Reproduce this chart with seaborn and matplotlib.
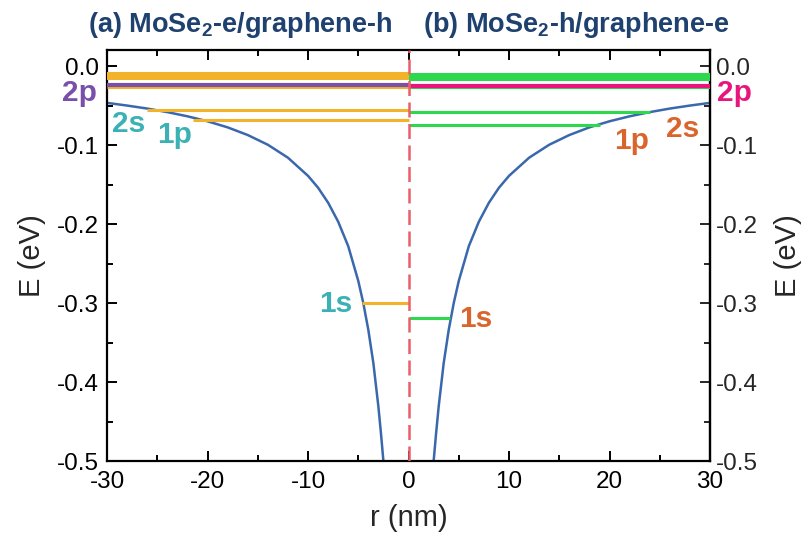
import matplotlib
matplotlib.use("Agg")
import matplotlib.pyplot as plt
import numpy as np
import pandas as pd
import seaborn as sns
from matplotlib.ticker import MultipleLocator

# Confining potential, radial distance |r| (nm) vs energy (eV)
r_abs = [2.4, 2.5, 2.75, 3.0, 3.5, 4.0, 4.5, 5.0, 6.0, 7.0, 8.0, 9.0, 10.0,
         12.0, 14.0, 16.0, 18.0, 20.0, 22.0, 24.0, 26.0, 28.0, 30.0]
well_E = [-0.517, -0.500, -0.464, -0.431, -0.376, -0.334, -0.300, -0.272,
          -0.228, -0.197, -0.173, -0.154, -0.139, -0.116, -0.0996, -0.0873,
          -0.0776, -0.0699, -0.0636, -0.0583, -0.0538, -0.0500, -0.0466]

# (a) MoSe2-e/graphene-h bound states: energy, left end of the level (nm)
a_names = ["band", "2p'", "2s", "1p", "1s"]
a_E = [-0.013, -0.027, -0.055, -0.068, -0.300]
a_start = [-30.0, -30.0, -26.0, -21.4, -4.6]
a_2p_E = -0.024

# (b) MoSe2-h/graphene-e bound states: energy, right end of the level (nm)
b_names = ["band", "2p'", "2s", "1p", "1s"]
b_E = [-0.0135, -0.027, -0.058, -0.075, -0.319]
b_end = [30.0, 30.0, 24.0, 19.1, 4.1]
b_2p_E = -0.025

# State labels: text, r, baseline energy
a_labels = [("2p", -32.7, -0.0445), ("2s", -27.9, -0.0835),
            ("1p", -23.3, -0.0975), ("1s", -7.2, -0.311)]
b_labels = [("2p", 32.4, -0.0445), ("2s", 27.3, -0.090),
            ("1p", 22.2, -0.105), ("1s", 6.7, -0.330)]

x_ticks = [-30, -20, -10, 0, 10, 20, 30]
y_ticks = [0.0, -0.1, -0.2, -0.3, -0.4, -0.5]

sns.set_theme(style="ticks")
plt.rcParams["font.family"] = ["Liberation Sans", "DejaVu Sans"]
plt.rcParams["mathtext.fontset"] = "custom"
plt.rcParams["mathtext.bf"] = "Liberation Sans:bold"
plt.rcParams["mathtext.rm"] = "Liberation Sans"

C_CURVE = "#3A68AC"
C_ORANGE = "#F2B32A"
C_GREEN = "#2ED84E"
C_PURPLE = "#7A4FAA"
C_PINK = "#E8157C"
C_TEAL = "#3BB1B6"
C_RUST = "#D9652C"
C_DASH = "#EA5F69"
C_TITLE = "#1F416F"

TICK_FS = 17.5
LABEL_FS = 21

fig = plt.figure(figsize=(8.03, 5.38), dpi=100)
ax = fig.add_axes([0.1333, 0.1431, 0.7509, 0.7639])

well = pd.concat([
    pd.DataFrame({"r": [-v for v in r_abs], "E": well_E, "side": "a"}),
    pd.DataFrame({"r": r_abs, "E": well_E, "side": "b"}),
])
sns.lineplot(data=well, x="r", y="E", units="side", estimator=None,
             sort=False, color=C_CURVE, lw=1.8, ax=ax, zorder=2)

# bound-state levels
lw_levels = [5.8, 2.2, 2.2, 2.2, 2.2]
for E, x0, lw in zip(a_E, a_start, lw_levels):
    ax.hlines(E, x0, 0, color=C_ORANGE, lw=lw, zorder=3)
ax.hlines(a_2p_E, -30, 0, color=C_PURPLE, lw=3.0, zorder=4)

for E, x1, lw in zip(b_E, b_end, lw_levels):
    ax.hlines(E, 0, x1, color=C_GREEN, lw=lw, zorder=3)
ax.hlines(b_2p_E, 0, 30, color=C_PINK, lw=3.0, zorder=4)

ax.axvline(0, color=C_DASH, lw=1.8, ls=(0, (6, 2.6)), zorder=5)

for i, (txt, x, y) in enumerate(a_labels):
    ax.text(x, y, txt, color=C_PURPLE if i == 0 else C_TEAL, fontsize=21.5,
            fontweight="bold", ha="center", va="baseline", zorder=6)
for i, (txt, x, y) in enumerate(b_labels):
    ax.text(x, y, txt, color=C_PINK if i == 0 else C_RUST, fontsize=21.5,
            fontweight="bold", ha="center", va="baseline", zorder=6)

ax.set_xlim(-30, 30)
ax.set_ylim(-0.5, 0.0203)
ax.set_xticks(x_ticks)
ax.set_xticklabels([str(v) for v in x_ticks])
ax.set_yticks(y_ticks)
ax.set_yticklabels([f"{v:.1f}" for v in y_ticks])
ax.xaxis.set_minor_locator(MultipleLocator(5))
ax.yaxis.set_minor_locator(MultipleLocator(0.05))
ax.tick_params(which="both", direction="in", top=True, right=False,
               width=1.4, colors="black", labelsize=TICK_FS)
ax.tick_params(which="major", length=7)
ax.tick_params(which="minor", length=4)
ax.tick_params(axis="y", pad=6)
ax.tick_params(axis="x", pad=7)
for s in ax.spines.values():
    s.set_linewidth(1.6)
    s.set_color("black")

sec = ax.secondary_yaxis("right")
sec.set_yticks(y_ticks)
sec.set_yticklabels([f"{v:.1f}" for v in y_ticks])
sec.yaxis.set_minor_locator(MultipleLocator(0.05))
sec.tick_params(which="both", direction="in", width=1.4, labelsize=TICK_FS,
                pad=4)
sec.tick_params(which="major", length=7)
sec.tick_params(which="minor", length=4)
sec.spines["right"].set_linewidth(1.6)
sec.set_ylabel("E (eV)", fontsize=LABEL_FS, labelpad=12)

ax.set_xlabel("r (nm)", fontsize=LABEL_FS, labelpad=8)
ax.set_ylabel("E (eV)", fontsize=LABEL_FS, labelpad=8)

fig.text(240 / 803, 1 - 32 / 538, r"(a) MoSe$_\mathbf{2}$-e/graphene-h",
         color=C_TITLE, fontsize=19.5, fontweight="bold", ha="center",
         va="baseline")
fig.text(576 / 803, 1 - 32 / 538, r"(b) MoSe$_\mathbf{2}$-h/graphene-e",
         color=C_TITLE, fontsize=19.5, fontweight="bold", ha="center",
         va="baseline")

fig.savefig("out.png", dpi=100)
